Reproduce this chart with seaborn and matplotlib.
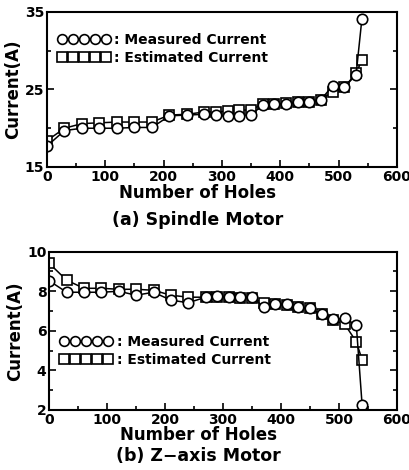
import matplotlib
matplotlib.use("Agg")
import matplotlib.pyplot as plt
from matplotlib.lines import Line2D
from matplotlib.ticker import MultipleLocator, FixedLocator
import seaborn as sns
import pandas as pd

holes = [0, 30, 60, 90, 120, 150, 180, 210, 240, 270, 290, 310, 330, 350,
         370, 390, 410, 430, 450, 470, 490, 510, 530, 540]

spindle_measured = [17.7, 19.7, 20.0, 20.0, 20.0, 20.1, 20.1, 21.6, 21.7, 21.8, 21.7, 21.6,
                    21.6, 21.7, 23.0, 23.1, 23.1, 23.4, 23.4, 23.7, 25.5, 25.3, 26.9, 34.1]
spindle_estimated = [18.4, 20.0, 20.6, 20.7, 20.8, 20.8, 20.8, 21.7, 21.8, 22.1, 22.1, 22.2,
                     22.3, 22.4, 23.1, 23.1, 23.2, 23.4, 23.4, 23.7, 24.7, 25.3, 27.1, 28.8]

zaxis_measured = [8.53, 7.95, 7.95, 7.95, 8.0, 7.8, 7.95, 7.55, 7.42, 7.7, 7.75, 7.72,
                  7.7, 7.7, 7.22, 7.35, 7.35, 7.2, 7.13, 6.83, 6.6, 6.63, 6.29, 2.25]
zaxis_estimated = [9.41, 8.56, 8.15, 8.15, 8.1, 8.1, 8.05, 7.8, 7.7, 7.7, 7.72, 7.7,
                   7.68, 7.68, 7.4, 7.35, 7.3, 7.2, 7.13, 6.83, 6.55, 6.33, 5.45, 4.53]

spindle_yticks = [15, 25, 35]
zaxis_yticks = [2, 4, 6, 8, 10]

legend_labels = [": Measured Current", ": Estimated Current"]
x_label = "Number of Holes"
y_label = "Current(A)"
captions = ["(a) Spindle Motor", "(b) Z\u2212axis Motor"]

sns.set_style("ticks")
plt.rcParams["font.family"] = ["DejaVu Sans"]
plt.rcParams["font.weight"] = "bold"
for key in ["text.color", "axes.labelcolor", "xtick.color", "ytick.color"]:
    plt.rcParams[key] = "black"

fig = plt.figure(figsize=(4.1, 4.7), dpi=100)
ax1 = fig.add_axes([0.1146, 0.6447, 0.8534, 0.3298])
ax2 = fig.add_axes([0.120, 0.1277, 0.848, 0.3368])

mk_kw = dict(color="black", linewidth=1.1, markerfacecolor="white",
             markeredgecolor="black", markeredgewidth=1.2, markersize=7.5)

def draw(ax, meas, est, ylim, yticks, yminor, caption, xlab_y, cap_y, leg_anchor):
    df = pd.DataFrame({"x": holes, "m": meas, "e": est})
    sns.lineplot(data=df, x="x", y="e", ax=ax, marker="s", **mk_kw)
    sns.lineplot(data=df, x="x", y="m", ax=ax, marker="o", **mk_kw)
    ax.set_xlim(0, 600)
    ax.set_ylim(*ylim)
    ax.xaxis.set_major_locator(MultipleLocator(100))
    ax.xaxis.set_minor_locator(MultipleLocator(50))
    ax.yaxis.set_major_locator(FixedLocator(yticks))
    ax.yaxis.set_minor_locator(MultipleLocator(yminor))
    ax.tick_params(which="both", direction="in", top=False, right=True,
                   labelsize=10, pad=2, width=1.2)
    ax.tick_params(which="major", length=5)
    ax.tick_params(which="minor", length=3)
    for lab in ax.get_xticklabels() + ax.get_yticklabels():
        lab.set_fontweight("bold")
    for s in ax.spines.values():
        s.set_linewidth(1.5)
        s.set_color("black")
    ax.set_xlabel("")
    ax.set_ylabel(y_label, fontsize=12, fontweight="bold", labelpad=2)
    ax.text(0.43, xlab_y, x_label, transform=ax.transAxes, ha="center", va="center",
            fontsize=12, fontweight="bold")
    ax.text(0.43, cap_y, caption, transform=ax.transAxes, ha="center", va="center",
            fontsize=12.5, fontweight="bold")
    handles = [Line2D([], [], marker="o", **mk_kw), Line2D([], [], marker="s", **mk_kw)]
    for h in handles:
        h.set_markersize(7)
    ax.legend(handles, legend_labels, numpoints=5, handlelength=3.8, handletextpad=0.3,
              frameon=False, loc="upper left", bbox_to_anchor=leg_anchor,
              labelspacing=0.3, borderaxespad=0, borderpad=0,
              prop={"weight": "bold", "size": 10})

draw(ax1, spindle_measured, spindle_estimated, (15, 35), spindle_yticks, 5, captions[0],
     -0.168, -0.342, (0.03, 0.865))
draw(ax2, zaxis_measured, zaxis_estimated, (2, 10), zaxis_yticks, 1, captions[1],
     -0.158, -0.29, (0.03, 0.474))

fig.savefig("out.png", dpi=100)
